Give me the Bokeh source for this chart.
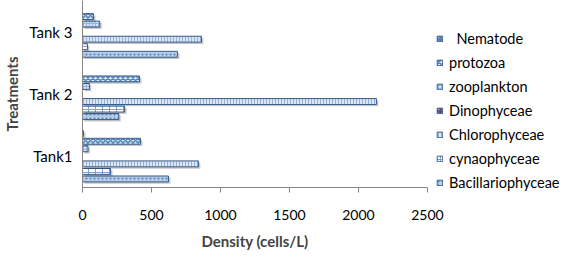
from bokeh.plotting import figure
from bokeh.models import FactorRange, Range1d, Legend, LegendItem, ColumnDataSource
from bokeh.transform import dodge
from bokeh.embed import file_html
from bokeh.resources import INLINE

tanks = ["Tank1", "Tank 2", "Tank 3"]
x_ticks = [0, 500, 1000, 1500, 2000, 2500]

Bacillariophyceae = [623, 263, 688]
cynaophyceae = [203, 305, 36]
Chlorophyceae = [840, 2130, 862]
Dinophyceae = [0, 0, 0]
zooplankton = [40, 50, 125]
protozoa = [420, 413, 80]
Nematode = [8, 0, 0]

series = [
    ("Bacillariophyceae", Bacillariophyceae),
    ("cynaophyceae", cynaophyceae),
    ("Chlorophyceae", Chlorophyceae),
    ("Dinophyceae", Dinophyceae),
    ("zooplankton", zooplankton),
    ("protozoa", protozoa),
    ("Nematode", Nematode),
]

styles = {
    "Bacillariophyceae": dict(fill_color="#b9cde5", hatch_pattern="dot", hatch_color="#4f81bd", hatch_scale=4, hatch_weight=1),
    "cynaophyceae": dict(fill_color="#ffffff", hatch_pattern="cross", hatch_color="#7da2d0", hatch_scale=7, hatch_weight=1),
    "Chlorophyceae": dict(fill_color="#dbe5f1", hatch_pattern="vertical_line", hatch_color="#95b3d7", hatch_scale=3, hatch_weight=1),
    "Dinophyceae": dict(fill_color="#604a7b", hatch_pattern="dot", hatch_color="#b3a2c7", hatch_scale=4, hatch_weight=1),
    "zooplankton": dict(fill_color="#dbe5f1", hatch_pattern="cross", hatch_color="#8eb4e3", hatch_scale=3, hatch_weight=1),
    "protozoa": dict(fill_color="#dbe5f1", hatch_pattern="diagonal_cross", hatch_color="#4f81bd", hatch_scale=5, hatch_weight=1.5),
    "Nematode": dict(fill_color="#4f81bd", hatch_pattern="dot", hatch_color="#95b3d7", hatch_scale=4, hatch_weight=1),
}

slot = 0.121
bar_h = 0.095

p = figure(
    y_range=FactorRange(*tanks),
    x_range=Range1d(0, 2500),
    frame_width=345, frame_height=187,
    min_border_left=74, min_border_right=128,
    min_border_top=0, min_border_bottom=56,
    output_backend="svg", toolbar_location=None,
)

items = {}
for i, (name, vals) in enumerate(series):
    src = ColumnDataSource(dict(tank=tanks, value=vals))
    off = (i - 3) * slot
    p.hbar(y=dodge("tank", off - 0.03, range=p.y_range), left=14,
           right=dodge("value", 14), height=bar_h, source=src,
           fill_color="#000000", fill_alpha=0.22, line_color=None)
    r = p.hbar(y=dodge("tank", off, range=p.y_range), left=0, right="value",
               height=bar_h, source=src, line_color="#385d8a", line_width=1,
               **styles[name])
    items[name] = r

legend_order = ["Nematode", "protozoa", "zooplankton", "Dinophyceae",
                "Chlorophyceae", "cynaophyceae", "Bacillariophyceae"]
legend_labels = {"Nematode": "\u00a0\u00a0Nematode"}
legend = Legend(
    items=[LegendItem(label=legend_labels.get(n, n), renderers=[items[n]]) for n in legend_order],
    location=(9, -7),
    border_line_color=None, background_fill_alpha=0,
    padding=0, spacing=0, margin=0,
    glyph_width=7, glyph_height=7, label_height=24, label_standoff=6,
    label_text_font="Lato", label_text_font_size="14.5px", label_text_color="#000000",
)
p.add_layout(legend, "right")

p.xgrid.grid_line_color = None
p.ygrid.grid_line_color = None
p.outline_line_color = None

p.xaxis.ticker = x_ticks
p.xaxis.axis_label = "Density (cells/L)"
p.xaxis.axis_label_text_font = "Lato"
p.xaxis.axis_label_text_font_style = "bold"
p.xaxis.axis_label_text_font_size = "15px"
p.xaxis.axis_label_standoff = 9
p.xaxis.major_label_text_font = "Lato"
p.xaxis.major_label_text_font_size = "14px"
p.xaxis.major_label_text_color = "#000000"
p.xaxis.major_label_standoff = 17
p.xaxis.axis_line_color = "#868686"
p.xaxis.major_tick_line_color = "#868686"
p.xaxis.major_tick_out = 5
p.xaxis.major_tick_in = 0
p.xaxis.minor_tick_line_color = None

p.yaxis.axis_label = "Treatments"
p.yaxis.axis_label_text_font = "Lato"
p.yaxis.axis_label_text_font_style = "bold"
p.yaxis.axis_label_text_font_size = "15px"
p.yaxis.axis_label_standoff = 5
p.yaxis.major_label_text_font = "Lato"
p.yaxis.major_label_text_font_size = "15px"
p.yaxis.major_label_text_color = "#000000"
p.yaxis.major_label_standoff = 10
p.yaxis.axis_line_color = "#868686"
p.yaxis.major_tick_line_color = None
p.yaxis.major_tick_out = 0
p.yaxis.major_tick_in = 0

open("out.html", "w").write(file_html(p, INLINE))
